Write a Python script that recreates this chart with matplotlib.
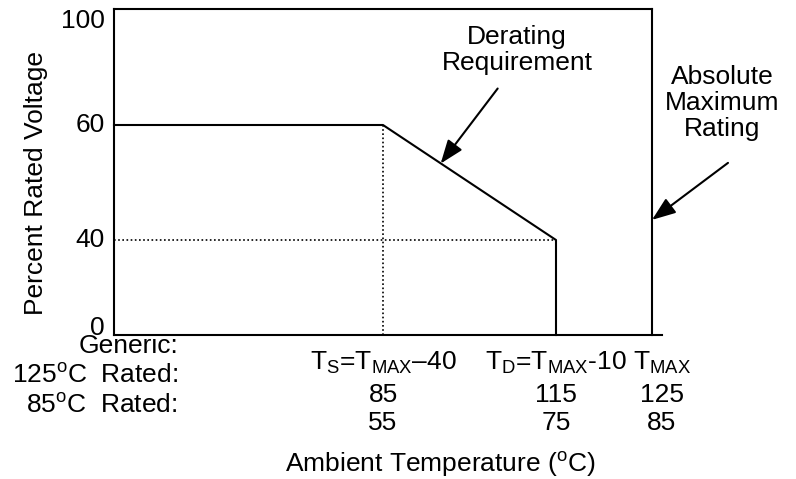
import numpy as np
import matplotlib
matplotlib.use("Agg")
import matplotlib.pyplot as plt

plt.rcParams["font.family"] = ["Liberation Sans", "DejaVu Sans"]
plt.rcParams["mathtext.fontset"] = "custom"
plt.rcParams["mathtext.rm"] = "Liberation Sans"
plt.rcParams["mathtext.default"] = "regular"

# data (temperatures on the 125C-rated scale)
t_start = 25
t_stress = 85
t_derate = 115
t_max = 125
curve_temp = [t_start, t_stress, t_derate, t_derate]
curve_volt = [60, 60, 40, 0]
y_ticks = [0, 40, 60, 100]

generic_labels = ["T$_S$=T$_{MAX}$\u201340", "T$_D$=T$_{MAX}$-10", "T$_{MAX}$"]
rated_125 = [85, 115, 125]
rated_85 = [55, 75, 85]
row_labels = ["Generic:", "125$^o$C  Rated:", "85$^o$C  Rated:"]

# schematic (non-linear) axis scales
x_knots, x_pos = [25, 85, 115, 125, 126], [0, 269, 442, 538, 548]
y_knots, y_pos = [0, 40, 60, 100], [0, 95, 210, 326]


def fx(v):
    return np.interp(v, x_knots, x_pos)


def fx_inv(v):
    return np.interp(v, x_pos, x_knots)


def fy(v):
    return np.interp(v, y_knots, y_pos)


def fy_inv(v):
    return np.interp(v, y_pos, y_knots)


fig = plt.figure(figsize=(7.96, 4.79), dpi=100)
ax = fig.add_axes([114 / 796, 144 / 479, 548 / 796, 326 / 479])
ax.set_xscale("function", functions=(fx, fx_inv))
ax.set_yscale("function", functions=(fy, fy_inv))
ax.set_xlim(25, 126)
ax.set_ylim(0, 100)
ax.set_xticks([])
ax.set_yticks([])
for s in ["top", "right"]:
    ax.spines[s].set_visible(False)
for s in ["left", "bottom"]:
    ax.spines[s].set_linewidth(1.5)

fs = 19
lw = 1.5

# frame lines: top of scale and absolute maximum rating
ax.plot([t_start, t_max], [100, 100], color="black", lw=lw, clip_on=False)
ax.plot([t_max, t_max], [0, 100], color="black", lw=lw, clip_on=False)

# derating curve
ax.plot(curve_temp, curve_volt, color="black", lw=lw, clip_on=False)

# dotted guides
ax.plot([t_stress, t_stress], [0, 60], color="black", lw=1.2, ls=(0, (1, 1.5)))
ax.plot([t_start, t_derate], [40, 40], color="black", lw=1.2, ls=(0, (1, 1.5)))

# y tick labels
y_va = ["baseline", "center", "center", "top"]
for v, va in zip(y_ticks, y_va):
    ax.annotate(str(v), xy=(0, v), xycoords=("axes fraction", "data"),
                xytext=(-9, 0), textcoords="offset pixels",
                ha="right", va=va, fontsize=fs)

# x labels: three rows under each temperature
tmax_shift = [0, 0, 10]
for i in range(3):
    for row, lab in enumerate([generic_labels[i], str(rated_125[i]), str(rated_85[i])]):
        ax.annotate(lab, xy=(rated_125[i], 0), xycoords=("data", "axes fraction"),
                    xytext=(tmax_shift[i], [-35, -67, -95][row]),
                    textcoords="offset pixels", ha="center", va="baseline",
                    fontsize=fs)

for row, lab in enumerate(row_labels):
    fig.text(178 / 796, [0.263, 0.2004, 0.1378][row], lab,
             ha="right", va="baseline", fontsize=fs)

fig.text(0.5528, 0.03, "Ambient Temperature ($^o$C)", ha="center", va="center",
         fontsize=fs)
fig.text(0.045, 0.618, "Percent Rated Voltage", rotation=90, ha="center",
         va="center", fontsize=fs)

# annotations
arrow = dict(arrowstyle="-|>,head_length=0.8,head_width=0.3", color="black",
             lw=lw, mutation_scale=18, shrinkA=0, shrinkB=0)
ax.annotate("", xy=(95, 53.3), xytext=(57, 75), textcoords="offset pixels",
            arrowprops=arrow)
fig.text(0.6495, 0.896, "Derating\nRequirement", ha="center", va="center",
         fontsize=fs, linespacing=1.1)

ax.annotate("", xy=(t_max, 43.5), xytext=(76, 57),
            textcoords="offset pixels", arrowprops=arrow, annotation_clip=False)
fig.text(0.907, 0.785, "Absolute\nMaximum\nRating", ha="center", va="center",
         fontsize=fs, linespacing=1.1)

fig.savefig("out.png", dpi=100)
